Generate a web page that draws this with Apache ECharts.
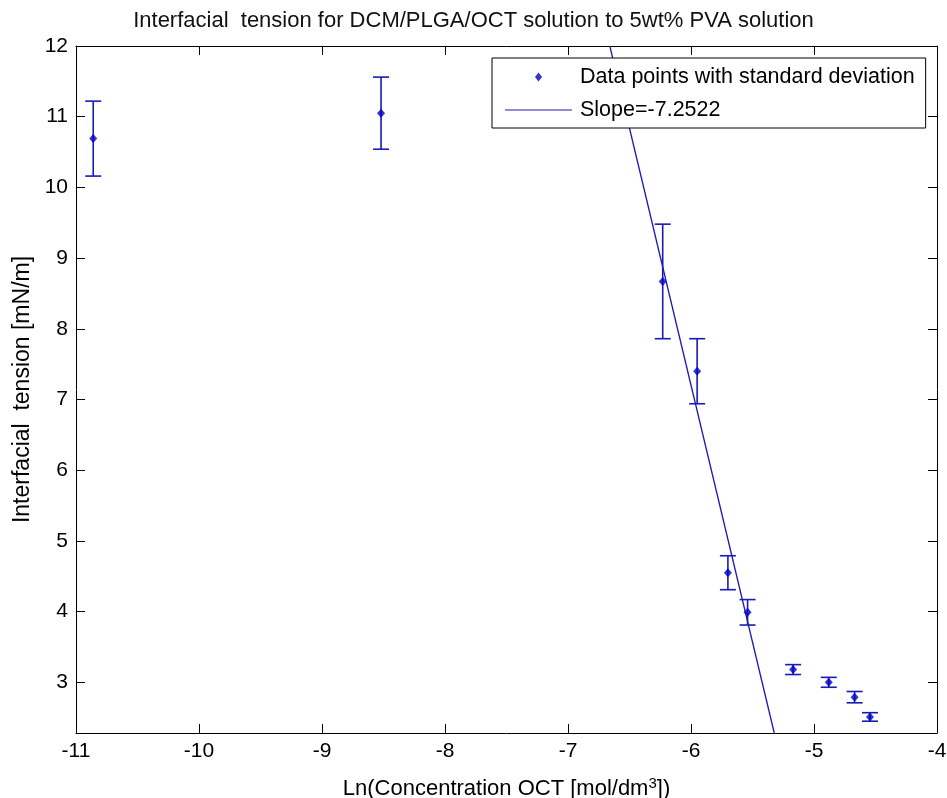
<!DOCTYPE html>
<html>
<head>
<meta charset="utf-8">
<script src="https://cdn.jsdelivr.net/npm/echarts@6/dist/echarts.min.js"></script>
<style>
html,body{margin:0;padding:0;background:#fff;}
#c{width:947px;height:798px;}
</style>
</head>
<body>
<div id="c"></div>
<script>
// ---- data ----
const lnConc = [-10.86, -8.52, -6.23, -5.95, -5.70, -5.54, -5.17, -4.88, -4.67, -4.545];
const tension = [10.69, 11.05, 8.67, 7.40, 4.55, 3.99, 3.18, 3.00, 2.79, 2.51];
const stdDev = [0.53, 0.51, 0.81, 0.46, 0.24, 0.18, 0.07, 0.07, 0.08, 0.06];
const fitLine = [[-6.66, 12.0], [-5.323, 2.283]];
const xTicks = [-11, -10, -9, -8, -7, -6, -5, -4];
const yTicks = [3, 4, 5, 6, 7, 8, 9, 10, 11, 12];
const xRange = [-11, -4];
const yRange = [2.283, 12];
const titleText = 'Interfacial  tension for DCM/PLGA/OCT solution to 5wt% PVA solution';
const xName = 'Ln(Concentration OCT [mol/dm{sup|3}])';
const yName = 'Interfacial  tension [mN/m]';
const pointsName = 'Data points with standard deviation';
const lineName = 'Slope=-7.2522';

const FONT = '"Liberation Sans", Arial, sans-serif';
const AX = '#000';
const BLUE = '#1a1ab4';
const MARK = '#0000c8';

const points = lnConc.map((x, i) => [x, tension[i]]);
const errData = lnConc.map((x, i) => [x, tension[i] - stdDev[i], tension[i] + stdDev[i]]);

const chart = echarts.init(document.getElementById('c'), null, {renderer: 'canvas'});

function axisCommon(pos) {
  return {
    type: 'value',
    position: pos,
    axisLine: {show: true, onZero: false, lineStyle: {color: AX, width: 1}},
    splitLine: {show: false}
  };
}

const option = {
  backgroundColor: '#fff',
  animation: false,
  title: {
    text: titleText,
    left: 'center',
    top: 5,
    textStyle: {fontFamily: FONT, fontSize: 22, fontWeight: 'normal', color: '#111'}
  },
  legend: {
    orient: 'vertical',
    left: 492,
    top: 58,
    padding: [7, 11, 6, 13],
    itemGap: 9,
    itemWidth: 67,
    itemHeight: 14,
    borderColor: '#000',
    borderWidth: 1,
    backgroundColor: '#fff',
    textStyle: {fontFamily: FONT, fontSize: 21.5, color: '#000', lineHeight: 24, padding: [0, 0, 0, 3]},
    data: [
      {name: pointsName, icon: 'path://M0 0M14 14M3.5 7L7 2.5L10.5 7L7 11.5Z'},
      {name: lineName, icon: 'path://M0 0L67 0L67 1.2L0 1.2Z'}
    ]
  },
  grid: {left: 76, top: 46, width: 861, height: 687, containLabel: false, outerBoundsMode: 'none'},
  xAxis: [
    Object.assign(axisCommon('bottom'), {
      min: xRange[0], max: xRange[1],
      axisTick: {show: true, inside: true, length: 9, lineStyle: {color: AX}, customValues: xTicks},
      axisLabel: {show: true, color: '#000', fontFamily: FONT, fontSize: 21, margin: 8, customValues: xTicks},
      name: xName,
      nameLocation: 'middle',
      nameGap: 43,
      nameTextStyle: {fontFamily: FONT, fontSize: 22, color: '#000',
        rich: {sup: {fontSize: 15, verticalAlign: 'top', padding: [0, 0, 10, 0], fontFamily: FONT, color: '#000'}}}
    }),
    Object.assign(axisCommon('top'), {
      min: xRange[0], max: xRange[1],
      axisTick: {show: true, inside: true, length: 9, lineStyle: {color: AX}, customValues: xTicks},
      axisLabel: {show: false}
    })
  ],
  yAxis: [
    Object.assign(axisCommon('left'), {
      min: yRange[0], max: yRange[1],
      axisTick: {show: true, inside: true, length: 9, lineStyle: {color: AX}, customValues: yTicks},
      axisLabel: {show: true, color: '#000', fontFamily: FONT, fontSize: 21, margin: 8, customValues: yTicks},
      name: yName,
      nameLocation: 'middle',
      nameGap: 40,
      nameTextStyle: {fontFamily: FONT, fontSize: 23, color: '#000'}
    }),
    Object.assign(axisCommon('right'), {
      min: yRange[0], max: yRange[1],
      axisTick: {show: true, inside: true, length: 9, lineStyle: {color: AX}, customValues: yTicks},
      axisLabel: {show: false}
    })
  ],
  series: [
    {
      name: pointsName,
      type: 'scatter',
      data: points,
      symbol: 'diamond',
      symbolSize: [8, 9],
      itemStyle: {color: MARK},
      z: 5
    },
    {
      name: 'err',
      type: 'custom',
      data: errData,
      z: 4,
      renderItem: function (params, api) {
        const x = api.value(0);
        const lo = api.coord([x, api.value(1)]);
        const hi = api.coord([x, api.value(2)]);
        const w = 8;
        const st = {stroke: BLUE, lineWidth: 1.6, fill: null};
        return {
          type: 'group',
          children: [
            {type: 'line', shape: {x1: lo[0], y1: lo[1], x2: hi[0], y2: hi[1]}, style: st},
            {type: 'line', shape: {x1: lo[0] - w, y1: lo[1], x2: lo[0] + w, y2: lo[1]}, style: st},
            {type: 'line', shape: {x1: hi[0] - w, y1: hi[1], x2: hi[0] + w, y2: hi[1]}, style: st}
          ]
        };
      },
      encode: {x: 0, y: [1, 2]}
    },
    {
      name: lineName,
      type: 'line',
      data: fitLine,
      showSymbol: false,
      symbol: 'none',
      lineStyle: {color: BLUE, width: 1.3},
      itemStyle: {color: BLUE},
      clip: true,
      z: 3
    }
  ]
};
chart.setOption(option);
</script>
</body>
</html>
